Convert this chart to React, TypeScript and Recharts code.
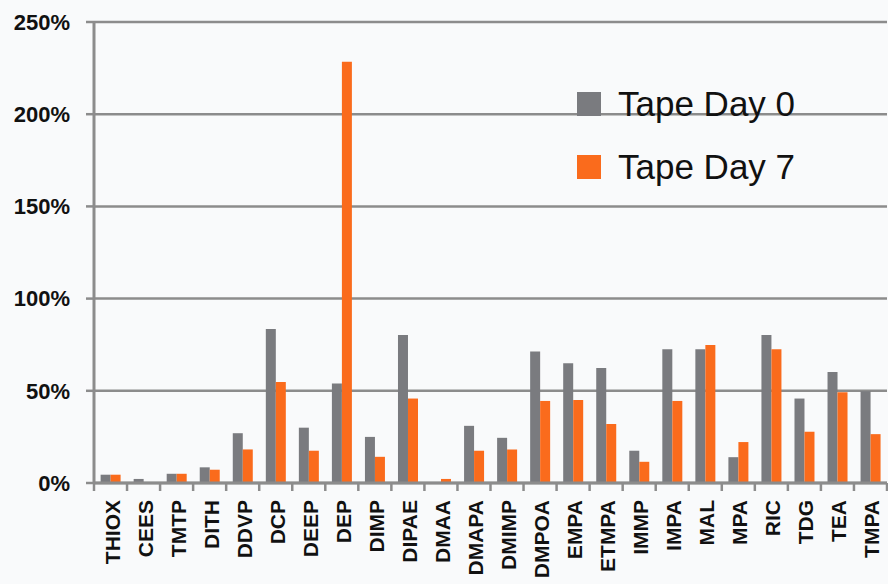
import React from "react";
import { BarChart, Bar, XAxis, YAxis, CartesianGrid } from "recharts";

const categories = ["THIOX","CEES","TMTP","DITH","DDVP","DCP","DEEP","DEP","DIMP","DIPAE","DMAA","DMAPA","DMIMP","DMPOA","EMPA","ETMPA","IMMP","IMPA","MAL","MPA","RIC","TDG","TEA","TMPA"];
const day0 = [4.5,2.2,5,8.5,27,83.5,30,54,25,80.2,0,31,24.5,71.3,65,62.3,17.5,72.5,72.5,14,80.2,45.8,60.2,49.8];
const day7 = [4.5,0,5,7.2,18.2,54.8,17.5,228.5,14.2,45.8,2.2,17.5,18.2,44.5,45,32,11.5,44.5,74.8,22.2,72.5,27.8,49.2,26.5];
const yTicks = [0,50,100,150,200,250];
const seriesNames = ["Tape Day 0","Tape Day 7"];
const seriesColors = ["#7a7b7f","#fa6b1c"];

const data = categories.map((c, i) => ({ name: c, d0: day0[i], d7: day7[i] }));

const W = 888, H = 584;
const LEFT = 94, RIGHT_M = 1, TOP = 22, BOTTOM = 101;
const BAND = (W - LEFT - RIGHT_M) / categories.length;
const GRID = "#8c8c8c";
const FONT = "'Liberation Sans', Arial, sans-serif";

const XTick = (props: any) => {
  const { x, y, payload, index } = props;
  const last = index === categories.length - 1;
  return (
    <g>
      <line x1={x - BAND / 2} x2={x - BAND / 2} y1={y} y2={y + 8} stroke={GRID} strokeWidth={2.5} />
      {last && <line x1={x + BAND / 2} x2={x + BAND / 2} y1={y} y2={y + 8} stroke={GRID} strokeWidth={2.5} />}
      <text
        transform={`translate(${x + 9},${y + 17}) rotate(-90)`}
        textAnchor="end"
        fontFamily={FONT}
        fontWeight="bold"
        fontSize={21}
        fill="#111"
      >
        {payload.value}
      </text>
    </g>
  );
};

export default function App() {
  return (
    <div style={{ position: "absolute", left: 0, top: 0, width: W, height: H, background: "#f9fafb" }}>
      <BarChart
        width={W}
        height={H}
        data={data}
        margin={{ top: TOP, right: RIGHT_M, bottom: 0, left: 0 }}
        barCategoryGap="20%"
        barGap={0}
      >
        <CartesianGrid horizontal vertical={false} stroke={GRID} strokeWidth={2.5} />
        <XAxis
          dataKey="name"
          height={BOTTOM}
          interval={0}
          tickLine={false}
          tickSize={0}
          tickMargin={0}
          stroke={GRID}
          strokeWidth={3}
          tick={<XTick />}
        />
        <YAxis
          width={LEFT}
          domain={[0, 250]}
          ticks={yTicks}
          tickFormatter={(v: number) => `${v}%`}
          tickSize={8}
          tickMargin={16}
          stroke={GRID}
          strokeWidth={3}
          tickLine={{ stroke: GRID, strokeWidth: 2.5 }}
          tick={{ fontFamily: FONT, fontWeight: "bold", fontSize: 22, fill: "#111" }}
          allowDataOverflow
        />
        <Bar dataKey="d0" name={seriesNames[0]} fill={seriesColors[0]} isAnimationActive={false} />
        <Bar dataKey="d7" name={seriesNames[1]} fill={seriesColors[1]} isAnimationActive={false} />
      </BarChart>
      <div style={{ position: "absolute", left: 577, top: 72, fontFamily: FONT, fontSize: 35, color: "#111" }}>
        {seriesNames.map((n, i) => (
          <div key={n} style={{ display: "flex", alignItems: "center", height: 63 }}>
            <div style={{ width: 24, height: 24, background: seriesColors[i], marginRight: 17 }} />
            <span>{n}</span>
          </div>
        ))}
      </div>
    </div>
  );
}
